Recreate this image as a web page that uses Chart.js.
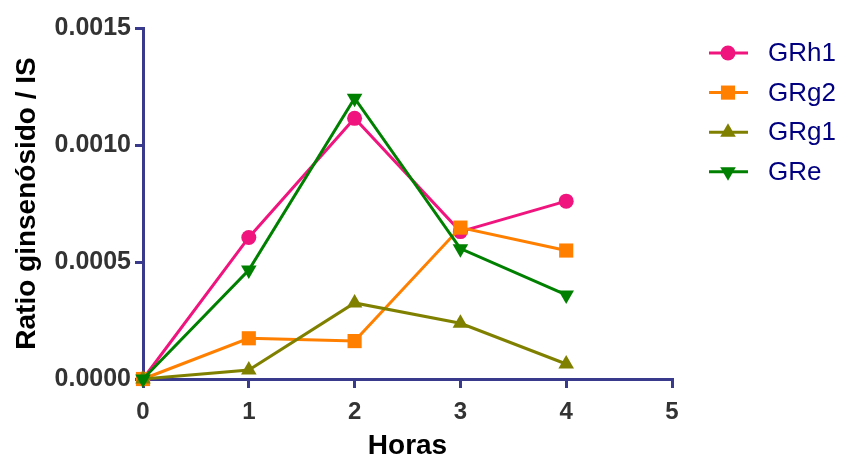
<!DOCTYPE html>
<html>
<head>
<meta charset="utf-8">
<script src="https://cdn.jsdelivr.net/npm/chart.js@4"></script>
<style>
  html, body { margin: 0; padding: 0; background: #fff; }
  canvas { display: block; }
</style>
</head>
<body>
<canvas id="chart" width="841" height="457"></canvas>
<script>
var horas = [0, 1, 2, 3, 4];
var grh1 = [0, 0.000605, 0.001114, 0.00063, 0.00076];
var grg2 = [0, 0.000174, 0.000162, 0.000647, 0.000549];
var grg1 = [0, 0.000038, 0.000325, 0.000238, 0.000064];
var gre = [0, 0.000466, 0.0012, 0.000557, 0.000359];
var xTicks = [0, 1, 2, 3, 4, 5];
var yTicks = [0, 0.0005, 0.0010, 0.0015];

var axisColor = '#3a3a8c';
var fontFamily = '"Liberation Sans", Arial, sans-serif';

function pts(ys) {
  return horas.map(function (h, i) { return { x: h, y: ys[i] }; });
}

function series(label, ys, color, style, rot, radius, order) {
  return {
    label: label,
    data: pts(ys),
    borderColor: color,
    backgroundColor: color,
    borderWidth: 3,
    pointStyle: style,
    pointRotation: rot,
    pointRadius: radius,
    pointBorderWidth: 0,
    pointHoverRadius: radius,
    tension: 0,
    fill: false,
    clip: false,
    order: order
  };
}

// custom legend: line with marker, like the original plot
var legendPlugin = {
  id: 'lineLegend',
  afterDraw: function (chart) {
    var ctx = chart.ctx;
    var x0 = chart.chartArea.right + 37;
    var y0 = 53;
    chart.data.datasets.forEach(function (ds, i) {
      var y = y0 + i * 39.6;
      ctx.save();
      ctx.strokeStyle = ds.borderColor;
      ctx.lineWidth = 3;
      ctx.beginPath();
      ctx.moveTo(x0, y);
      ctx.lineTo(x0 + 39, y);
      ctx.stroke();
      ctx.fillStyle = ds.backgroundColor;
      Chart.helpers.drawPoint(ctx, {
        pointStyle: ds.pointStyle,
        rotation: ds.pointRotation,
        radius: ds.pointRadius,
        borderWidth: 0
      }, x0 + 19, y);
      ctx.fillStyle = '#000080';
      ctx.font = '26px ' + fontFamily;
      ctx.textBaseline = 'middle';
      ctx.textAlign = 'left';
      ctx.fillText(ds.label, x0 + 59, y + 1);
      ctx.restore();
    });
  }
};

new Chart(document.getElementById('chart').getContext('2d'), {
  type: 'line',
  data: {
    datasets: [
      series('GRh1', grh1, '#F0157E', 'circle', 0, 7.5, 3),
      series('GRg2', grg2, '#FF7F00', 'rect', 0, 10, 2),
      series('GRg1', grg1, '#808000', 'triangle', 0, 9, 1),
      series('GRe', gre, '#008000', 'triangle', 180, 9, 0)
    ]
  },
  options: {
    responsive: false,
    animation: false,
    layout: { padding: { top: 28, right: 169, left: 0, bottom: 0 } },
    plugins: {
      legend: { display: false },
      tooltip: { enabled: false }
    },
    scales: {
      x: {
        type: 'linear',
        min: 0,
        max: 5,
        afterBuildTicks: function (s) { s.ticks = xTicks.map(function (v) { return { value: v }; }); },
        afterFit: function (s) { s.height = 78; },
        border: { display: true, color: axisColor, width: 3 },
        grid: { display: true, drawOnChartArea: false, drawTicks: true, tickLength: 9, color: axisColor, lineWidth: 3 },
        ticks: { color: '#333', padding: 10, font: { family: fontFamily, size: 24, weight: 'bold' } },
        title: {
          display: true,
          text: 'Horas',
          color: '#000',
          padding: { top: 2, bottom: -3 },
          font: { family: fontFamily, size: 28, weight: 'bold', lineHeight: 1 }
        }
      },
      y: {
        min: 0,
        max: 0.0015,
        afterBuildTicks: function (s) { s.ticks = yTicks.map(function (v) { return { value: v }; }); },
        afterFit: function (s) { s.width = 143; },
        border: { display: true, color: axisColor, width: 3 },
        grid: { display: true, drawOnChartArea: false, drawTicks: true, tickLength: 8, color: axisColor, lineWidth: 3 },
        ticks: {
          color: '#333',
          padding: 4,
          font: { family: fontFamily, size: 25, weight: 'bold' },
          callback: function (v) { return Number(v).toFixed(4); }
        },
        title: {
          display: true,
          text: 'Ratio ginsenósido / IS',
          color: '#000',
          padding: { top: 10, bottom: 4 },
          font: { family: fontFamily, size: 28, weight: 'bold' }
        }
      }
    }
  },
  plugins: [legendPlugin]
});
</script>
</body>
</html>
